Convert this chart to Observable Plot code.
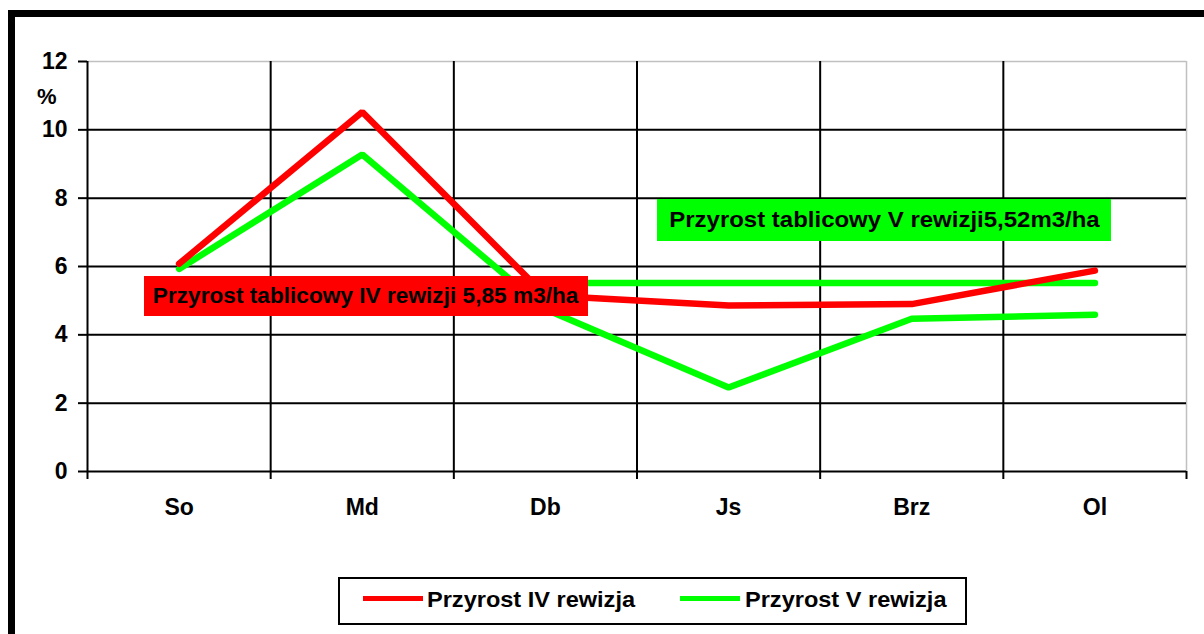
<!DOCTYPE html>
<html>
<head>
<meta charset="utf-8">
<script src="https://cdn.jsdelivr.net/npm/d3@7"></script>
<script src="https://cdn.jsdelivr.net/npm/@observablehq/plot@0.6"></script>
<style>
  html, body { margin: 0; padding: 0; background: #fff; }
  body { width: 1204px; height: 634px; overflow: hidden; position: relative; font-family: "Liberation Sans", Arial, sans-serif; font-weight: bold; }
  #frame { position: absolute; left: 8px; top: 10px; width: 1300px; height: 700px; border-top: 7px solid #000; border-left: 7px solid #000; box-sizing: border-box; }
  #chart { position: absolute; left: 0; top: 0; }
  .note { position: absolute; color: #000; font-weight: bold; display: flex; align-items: center; justify-content: center; white-space: nowrap; }
  .note span { display: inline-block; }
  #unit { position: absolute; left: 37px; top: 84px; font-size: 22px; font-weight: bold; }
  #legend { position: absolute; left: 338px; top: 577px; width: 629px; height: 48px; border: 2px solid #000; box-sizing: border-box; }
  .sw { position: absolute; height: 5px; width: 60px; top: 17px; }
  .lt { position: absolute; top: 8px; font-size: 22px; font-weight: bold; white-space: nowrap; transform: scaleX(1.07); transform-origin: left center; }
</style>
</head>
<body>
<div id="frame"></div>
<div id="chart"></div>
<div id="unit">%</div>
<div class="note" style="left:144px; top:276px; width:444px; height:40px; background:#ff0000; font-size:22px;"><span id="noteIV" style="transform: scaleX(1.03);"></span></div>
<div class="note" style="left:657px; top:199px; width:454px; height:42px; background:#00ff00; font-size:22px;"><span id="noteV" style="transform: scaleX(1.09);"></span></div>
<div id="legend">
  <div class="sw" style="left:23px; background:#ff0000;"></div>
  <div class="lt" id="lg1" style="left:87px;"></div>
  <div class="sw" style="left:340px; background:#00ff00;"></div>
  <div class="lt" id="lg2" style="left:405px;"></div>
</div>
<script>
const categories = ["So", "Md", "Db", "Js", "Brz", "Ol"];
const seriesNames = ["Przyrost IV rewizja", "Przyrost V rewizja"];
const przyrostIV = [6.08, 10.52, 5.15, 4.86, 4.9, 5.88];
const przyrostV = [5.93, 9.28, 4.75, 2.46, 4.47, 4.59];
const tablicowyV = 5.52;
const tablicowyVRange = ["Db", "Ol"];
const yTicks = [0, 2, 4, 6, 8, 10, 12];
const noteIV = "Przyrost tablicowy IV rewizji 5,85 m3/ha";
const noteV = "Przyrost tablicowy V rewizji5,52m3/ha";

document.getElementById("noteIV").textContent = noteIV;
document.getElementById("noteV").textContent = noteV;
document.getElementById("lg1").textContent = seriesNames[0];
document.getElementById("lg2").textContent = seriesNames[1];

const idx = c => categories.indexOf(c) + 0.5;
const dataIV = categories.map((c, i) => ({x: idx(c), y: przyrostIV[i]}));
const dataV = categories.map((c, i) => ({x: idx(c), y: przyrostV[i]}));
const i0 = categories.indexOf(tablicowyVRange[0]);
const i1 = categories.indexOf(tablicowyVRange[1]);
const dataTabV = categories.slice(i0, i1 + 1).map(c => ({x: idx(c), y: tablicowyV}));
const bounds = d3.range(categories.length + 1);

const chart = Plot.plot({
  width: 1204,
  height: 634,
  marginLeft: 87,
  marginRight: 18,
  marginTop: 61,
  marginBottom: 163,
  style: { fontFamily: "'Liberation Sans', Arial, sans-serif", fontWeight: "bold", background: "transparent" },
  x: { type: "linear", domain: [0, categories.length], axis: null },
  y: { type: "linear", domain: [0, 12], axis: null },
  marks: [
    Plot.ruleY([12], { stroke: "#c0c0c0", strokeWidth: 1.5 }),
    Plot.ruleX([categories.length], { stroke: "#c0c0c0", strokeWidth: 1.5 }),
    Plot.ruleY(yTicks.filter(t => t < 12), { stroke: "#000", strokeWidth: 2 }),
    Plot.ruleX(bounds.filter(b => b < categories.length), { stroke: "#000", strokeWidth: 2 }),
    Plot.axisX(bounds, { label: null, tickSize: 8, tickFormat: () => "", stroke: "#000", strokeWidth: 2 }),
    Plot.axisY(yTicks, { label: null, tickSize: 9, tickFormat: () => "", stroke: "#000", strokeWidth: 2 }),
    Plot.text(categories, { x: (d, i) => i + 0.5, y: () => 0, text: d => d, dy: 36, fontSize: 23, fontWeight: "bold", fill: "#000", lineAnchor: "middle" }),
    Plot.text(yTicks, { x: () => 0, y: d => d, text: d => String(d), dx: -20, textAnchor: "end", fontSize: 23, fontWeight: "bold", fill: "#000", lineAnchor: "middle" }),
    Plot.line(dataTabV, { x: "x", y: "y", stroke: "#00ff00", strokeWidth: 6.5 }),
    Plot.line(dataV, { x: "x", y: "y", stroke: "#00ff00", strokeWidth: 6.5, strokeLinejoin: "miter" }),
    Plot.line(dataIV, { x: "x", y: "y", stroke: "#ff0000", strokeWidth: 6.5, strokeLinejoin: "miter" })
  ]
});
document.getElementById("chart").appendChild(chart);
</script>
</body>
</html>
